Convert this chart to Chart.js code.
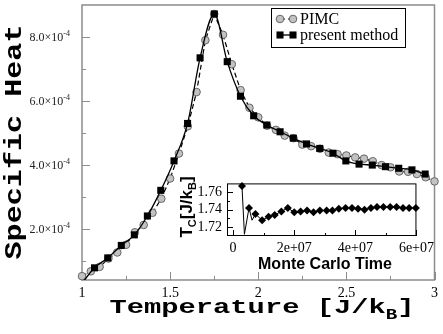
<!DOCTYPE html>
<html>
<head>
<meta charset="utf-8">
<script src="https://cdn.jsdelivr.net/npm/chart.js@4.4.1/dist/chart.umd.min.js"></script>
<style>
  html, body { margin: 0; padding: 0; background: #fff; }
  #wrap { position: relative; width: 443px; height: 334px; }
  #main { position: absolute; left: 0; top: 0; }
  #inset { position: absolute; left: 160px; top: 170px; }
</style>
</head>
<body>
<div id="wrap">
  <canvas id="main" width="443" height="334"></canvas>
  <canvas id="inset" width="278" height="101"></canvas>
</div>
<script>
// Main panel: specific heat (in units of 1e-4) vs temperature [J/kB]
const pimcT = [1.00, 1.05, 1.10, 1.15, 1.20, 1.25, 1.30, 1.35, 1.40, 1.45, 1.50, 1.55, 1.60, 1.65, 1.70,
  1.75, 1.80, 1.85, 1.90, 1.95, 2.00, 2.05, 2.10, 2.15, 2.20, 2.25, 2.30, 2.35, 2.40, 2.45, 2.50,
  2.55, 2.60, 2.65, 2.70, 2.75, 2.80, 2.85, 2.90, 2.95, 3.00];
const pimcC = [0.53, 0.68, 0.82, 1.08, 1.27, 1.51, 1.90, 2.13, 2.51, 2.95, 3.58, 4.36, 5.21, 6.28, 7.90,
  8.72, 8.07, 7.15, 6.34, 5.79, 5.49, 5.23, 5.10, 4.92, 4.84, 4.64, 4.59, 4.51, 4.39, 4.34, 4.30,
  4.24, 4.20, 4.12, 4.00, 3.93, 3.80, 3.79, 3.72, 3.62, 3.49];
const presentT = [0.996, 1.071, 1.146, 1.223, 1.297, 1.371, 1.447, 1.522, 1.599, 1.670, 1.751, 1.824,
  1.899, 1.974, 2.049, 2.124, 2.199, 2.274, 2.349, 2.424, 2.497, 2.572, 2.647, 2.722, 2.797, 2.872, 2.947];
const presentC = [0.28, 0.79, 1.10, 1.49, 1.82, 2.41, 3.21, 4.13, 5.30, 7.35, 8.72, 7.23,
  6.15, 5.54, 5.25, 5.04, 4.84, 4.66, 4.52, 4.37, 4.13, 4.03, 4.00, 3.95, 3.90, 3.85, 3.72];
const tempTicks = [1, 1.5, 2, 2.5, 3];
const tempMinor = [1.25, 1.75, 2.25, 2.75];
const heatTicks = [2, 4, 6, 8];
const heatMinor = [1, 3, 5, 7];

// Inset: critical temperature vs Monte Carlo time (sampled = drawn with a marker)
const mcTime = [0.29e7, 0.37e7, 0.52e7, 0.62e7, 0.73e7, 0.95e7, 1.16e7, 1.36e7, 1.58e7, 1.79e7, 2.00e7,
  2.21e7, 2.42e7, 2.63e7, 2.84e7, 3.06e7, 3.25e7, 3.46e7, 3.68e7, 3.89e7, 4.09e7, 4.30e7, 4.51e7,
  4.71e7, 4.92e7, 5.14e7, 5.35e7, 5.56e7, 5.76e7, 5.98e7];
const mcTc = [1.767, 1.712, 1.742, 1.728, 1.735, 1.728, 1.732, 1.734, 1.738, 1.742, 1.737,
  1.738, 1.739, 1.737, 1.739, 1.739, 1.739, 1.741, 1.742, 1.742, 1.741, 1.740, 1.742,
  1.743, 1.743, 1.743, 1.743, 1.742, 1.742, 1.742];
const mcSampled = [1, 0, 1, 0, 1, 1, 1, 1, 1, 1, 1, 1, 1, 1, 1, 1, 1, 1, 1, 1, 1, 1, 1, 1, 1, 1, 1, 1, 1, 1];
const mcTicks = [0, 2e7, 4e7, 6e7];
const mcMinor = [1e7, 3e7, 5e7];
const tcTicks = [1.72, 1.74, 1.76];
const tcMinor = [1.73, 1.75];

// draw a run of text pieces (for sub/superscripts); align "center" or "right"
function drawRich(ctx, parts, x, y, sx, align) {
  let total = 0;
  parts.forEach(p => { ctx.font = p.font; p.w = ctx.measureText(p.text).width; total += p.w; });
  ctx.save();
  ctx.translate(x, y);
  ctx.scale(sx || 1, 1);
  let cx = align === "right" ? -total : -total / 2;
  ctx.textAlign = "left";
  ctx.textBaseline = "alphabetic";
  parts.forEach(p => {
    ctx.font = p.font;
    ctx.fillText(p.text, cx, p.dy || 0);
    cx += p.w;
  });
  ctx.restore();
}

function inwardTicks(ctx, chart, xs, ys, len, color) {
  const a = chart.chartArea;
  ctx.save();
  ctx.strokeStyle = color;
  ctx.lineWidth = 1;
  ctx.beginPath();
  xs.forEach(v => {
    const px = Math.round(chart.scales.x.getPixelForValue(v)) + 0.5;
    ctx.moveTo(px, a.bottom); ctx.lineTo(px, a.bottom - len);
  });
  ys.forEach(v => {
    const py = Math.round(chart.scales.y.getPixelForValue(v)) + 0.5;
    ctx.moveTo(a.left, py); ctx.lineTo(a.left + len, py);
  });
  ctx.stroke();
  ctx.restore();
}

const mainDecor = {
  id: "mainDecor",
  beforeDatasetsDraw(chart) {
    const ctx = chart.ctx, a = chart.chartArea;
    ctx.save();
    ctx.strokeStyle = "#8c8c8c";
    ctx.lineWidth = 1.5;
    ctx.strokeRect(a.left, a.top, a.right - a.left, a.bottom - a.top);
    ctx.restore();
    inwardTicks(ctx, chart, tempTicks, heatTicks, 8, "#8c8c8c");
    inwardTicks(ctx, chart, tempMinor, heatMinor, 4, "#8c8c8c");
  },
  afterDraw(chart) {
    const ctx = chart.ctx;
    ctx.save();
    ctx.fillStyle = "#222";
    // y tick labels with a real superscript exponent
    heatTicks.forEach(v => {
      const py = chart.scales.y.getPixelForValue(v);
      drawRich(ctx, [
        { text: v.toFixed(1) + "×10", font: '12px "Liberation Serif"' },
        { text: "-4", font: '8px "Liberation Serif"', dy: -5 }
      ], 70, py + 4, 1, "right");
    });
    ctx.fillStyle = "#000";
    // axis titles
    const big = 'bold 21px "Liberation Mono"', small = 'bold 14px "Liberation Mono"';
    drawRich(ctx, [
      { text: "Temperature [J/k", font: big },
      { text: "B", font: small, dy: 6 },
      { text: "]", font: big }
    ], 262, 313, 1.37);
    ctx.save();
    ctx.translate(21, 142);
    ctx.rotate(-Math.PI / 2);
    drawRich(ctx, [{ text: "Specific Heat", font: 'bold 23px "Liberation Mono"' }], 0, 0, 1.31);
    ctx.restore();

    // legend
    const lx = 271, ly = 8, lw = 134, lh = 39;
    ctx.fillStyle = "#fff";
    ctx.fillRect(lx, ly, lw, lh);
    ctx.strokeStyle = "#000";
    ctx.lineWidth = 1;
    ctx.strokeRect(lx + 0.5, ly + 0.5, lw, lh);
    const rows = [
      { ds: chart.data.datasets[1], y: 19, text: "PIMC" },
      { ds: chart.data.datasets[0], y: 35, text: "present method" }
    ];
    rows.forEach(r => {
      ctx.save();
      ctx.strokeStyle = r.ds.borderColor;
      ctx.lineWidth = r.ds.borderWidth;
      ctx.setLineDash(r.ds.borderDash || []);
      ctx.beginPath();
      ctx.moveTo(280, r.y); ctx.lineTo(293, r.y);
      ctx.stroke();
      ctx.restore();
      [280, 293].forEach(px => {
        ctx.fillStyle = r.ds.pointBackgroundColor;
        ctx.strokeStyle = r.ds.pointBorderColor;
        ctx.lineWidth = r.ds.pointBorderWidth;
        Chart.helpers.drawPoint(ctx, { pointStyle: r.ds.pointStyle, radius: r.ds.pointRadius.length ? r.ds.pointRadius[1] : r.ds.pointRadius, borderWidth: r.ds.pointBorderWidth }, px, r.y);
      });
      ctx.fillStyle = "#000";
      ctx.font = '16px "Liberation Serif"';
      ctx.textAlign = "left";
      ctx.textBaseline = "middle";
      ctx.fillText(r.text, 300, r.y + 1);
    });
    ctx.restore();
  }
};

new Chart(document.getElementById("main"), {
  type: "scatter",
  data: {
    datasets: [
      {
        label: "present method",
        data: presentT.map((t, i) => ({ x: t, y: presentC[i] })),
        showLine: true,
        borderColor: "#000",
        borderWidth: 1.3,
        cubicInterpolationMode: "monotone",
        pointStyle: "rect",
        pointRadius: presentT.map((t, i) => (i === 0 ? 0 : 5)),
        pointBackgroundColor: "#000",
        pointBorderColor: "#000",
        pointBorderWidth: 0,
        clip: { left: 10, right: 10, top: 10, bottom: 0 },
        order: 0
      },
      {
        label: "PIMC",
        data: pimcT.map((t, i) => ({ x: t, y: pimcC[i] })),
        showLine: true,
        borderColor: "#000",
        borderWidth: 1.2,
        borderDash: [5, 3],
        tension: 0,
        pointStyle: "circle",
        pointRadius: 3.8,
        pointBackgroundColor: "#c2c2c2",
        pointBorderColor: "#666",
        pointBorderWidth: 1,
        clip: false,
        order: 1
      }
    ]
  },
  options: {
    responsive: false,
    animation: false,
    events: [],
    layout: { padding: { top: 1, right: 5, left: 0, bottom: 0 } },
    plugins: { legend: { display: false }, tooltip: { enabled: false } },
    scales: {
      x: {
        type: "linear",
        min: 1, max: 3,
        afterFit(s) { s.height = 54; },
        afterBuildTicks(s) { s.ticks = tempTicks.map(v => ({ value: v })); },
        grid: { display: false, drawTicks: false },
        border: { display: false },
        ticks: {
          color: "#000",
          padding: 5,
          maxRotation: 0,
          font: { family: "Liberation Serif", size: 14 },
          callback: v => String(v)
        }
      },
      y: {
        min: 0.41, max: 9.0,
        afterFit(s) { s.width = 82; },
        afterBuildTicks(s) { s.ticks = heatTicks.map(v => ({ value: v })); },
        grid: { display: false, drawTicks: false },
        border: { display: false },
        ticks: { display: false }
      }
    }
  },
  plugins: [mainDecor]
});

const insetDecor = {
  id: "insetDecor",
  beforeDatasetsDraw(chart) {
    const ctx = chart.ctx, a = chart.chartArea;
    ctx.save();
    ctx.fillStyle = "#fff";
    ctx.fillRect(a.left, a.top, a.right - a.left, a.bottom - a.top);
    ctx.strokeStyle = "#000";
    ctx.lineWidth = 1;
    ctx.strokeRect(a.left + 0.5, a.top + 0.5, a.right - a.left - 1, a.bottom - a.top - 1);
    ctx.restore();
    inwardTicks(ctx, chart, mcTicks, tcTicks, 6, "#000");
    inwardTicks(ctx, chart, mcMinor, tcMinor, 3, "#000");
  },
  afterDraw(chart) {
    const ctx = chart.ctx;
    ctx.save();
    ctx.fillStyle = "#000";
    drawRich(ctx, [{ text: "Monte Carlo Time", font: 'bold 16px "Liberation Sans"' }], 165, 99, 1);
    ctx.translate(32, 37);
    ctx.rotate(-Math.PI / 2);
    const b = 'bold 17px "Liberation Sans"', s = 'bold 11px "Liberation Sans"';
    drawRich(ctx, [
      { text: "T", font: b },
      { text: "C", font: s, dy: 4 },
      { text: "[J/k", font: b },
      { text: "B", font: s, dy: 4 },
      { text: "]", font: b }
    ], 0, 0, 1);
    ctx.restore();
  }
};

new Chart(document.getElementById("inset"), {
  type: "scatter",
  data: {
    datasets: [{
      label: "Tc",
      data: mcTime.map((t, i) => ({ x: t, y: mcTc[i] })),
      showLine: true,
      borderColor: "#000",
      borderWidth: 1,
      pointStyle: "rectRot",
      pointRadius: mcSampled.map(m => (m ? 4 : 0)),
      pointBackgroundColor: "#000",
      pointBorderColor: "#000",
      pointBorderWidth: 0,
      clip: false
    }]
  },
  options: {
    responsive: false,
    animation: false,
    events: [],
    layout: { padding: { top: 6, right: 21, left: 0, bottom: 0 } },
    plugins: { legend: { display: false }, tooltip: { enabled: false } },
    scales: {
      x: {
        type: "linear",
        min: -0.2e7, max: 6e7,
        afterFit(s) { s.height = 35; },
        afterBuildTicks(s) { s.ticks = mcTicks.map(v => ({ value: v })); },
        grid: { display: false, drawTicks: false },
        border: { display: false },
        ticks: {
          color: "#000",
          padding: 4,
          maxRotation: 0,
          font: { family: "Liberation Serif", size: 14 },
          callback: v => (v === 0 ? "0" : (v / 1e7) + "e+07")
        }
      },
      y: {
        min: 1.71, max: 1.77,
        afterFit(s) { s.width = 67; },
        afterBuildTicks(s) { s.ticks = tcTicks.map(v => ({ value: v })); },
        grid: { display: false, drawTicks: false },
        border: { display: false },
        ticks: {
          color: "#000",
          padding: 5,
          font: { family: "Liberation Serif", size: 14 },
          callback: v => v.toFixed(2)
        }
      }
    }
  },
  plugins: [insetDecor]
});
</script>
</body>
</html>
